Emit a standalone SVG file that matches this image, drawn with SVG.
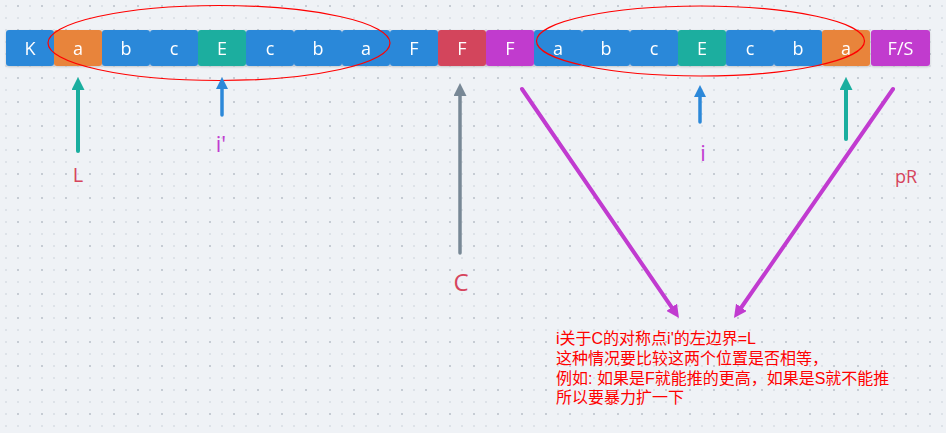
<svg xmlns="http://www.w3.org/2000/svg" width="946" height="433" viewBox="0 0 946 433">
<style>
.cell text{font-family:"Open Sans","Noto Sans",sans-serif;font-size:18px;fill:#ffffff;text-anchor:middle}
.blue{fill:#2c88d9}.orange{fill:#e8843b}.teal{fill:#1aae9f}.red{fill:#d3455b}.purple{fill:#c13bce}
.lbl{font-family:"Open Sans","Noto Sans",sans-serif;text-anchor:middle}
.note{font-family:"Liberation Sans","Noto Sans CJK SC",sans-serif;font-size:16px;fill:#ff0000}
.conn{fill:none;stroke-linecap:round}
</style>
<defs>
<pattern id="grid" width="24" height="24" patternUnits="userSpaceOnUse">
<rect x="5" y="5" width="2" height="2" fill="#dde2e8"/>
<rect x="5" y="17" width="2" height="2" fill="#dde2e8"/>
<rect x="17" y="17" width="2" height="2" fill="#dde2e8"/>
<rect x="17" y="5" width="2" height="2" fill="#c6ccd4"/>
</pattern>
<filter id="sh" x="-10%" y="-10%" width="120%" height="140%">
<feDropShadow dx="0" dy="1" stdDeviation="1" flood-color="#000" flood-opacity="0.18"/>
</filter>
<marker id="mTeal" viewBox="0 0 10 10" refX="2" refY="5" markerWidth="13" markerHeight="13" markerUnits="userSpaceOnUse" orient="auto"><path d="M0,0 L10,5 L0,10 z" fill="#1aae9f"/></marker>
<marker id="mBlue" viewBox="0 0 10 10" refX="2" refY="5" markerWidth="12" markerHeight="12" markerUnits="userSpaceOnUse" orient="auto"><path d="M0,0 L10,5 L0,10 z" fill="#2c88d9"/></marker>
<marker id="mGray" viewBox="0 0 10 10" refX="2" refY="5" markerWidth="13" markerHeight="13" markerUnits="userSpaceOnUse" orient="auto"><path d="M0,0 L10,5 L0,10 z" fill="#788896"/></marker>
<marker id="mPurple" viewBox="0 0 10 10" refX="2" refY="5" markerWidth="13" markerHeight="13" markerUnits="userSpaceOnUse" orient="auto"><path d="M0,0 L10,5 L0,10 z" fill="#c13bd0"/></marker>
</defs>
<rect width="946" height="433" fill="#eff2f6"/>
<rect width="946" height="433" fill="url(#grid)"/>

<g id="cells" filter="url(#sh)">
<g id="n0" class="cell"><rect class="blue" x="6" y="30" width="48" height="36" rx="3"/><text x="30" y="55">K</text></g>
<g id="n1" class="cell"><rect class="orange" x="54" y="30" width="48" height="36" rx="3"/><text x="78" y="55">a</text></g>
<g id="n2" class="cell"><rect class="blue" x="102" y="30" width="48" height="36" rx="3"/><text x="126" y="55">b</text></g>
<g id="n3" class="cell"><rect class="blue" x="150" y="30" width="48" height="36" rx="3"/><text x="174" y="55">c</text></g>
<g id="n4" class="cell"><rect class="teal" x="198" y="30" width="48" height="36" rx="3"/><text x="222" y="55">E</text></g>
<g id="n5" class="cell"><rect class="blue" x="246" y="30" width="48" height="36" rx="3"/><text x="270" y="55">c</text></g>
<g id="n6" class="cell"><rect class="blue" x="294" y="30" width="48" height="36" rx="3"/><text x="318" y="55">b</text></g>
<g id="n7" class="cell"><rect class="blue" x="342" y="30" width="48" height="36" rx="3"/><text x="366" y="55">a</text></g>
<g id="n8" class="cell"><rect class="blue" x="390" y="30" width="48" height="36" rx="3"/><text x="414" y="55">F</text></g>
<g id="n9" class="cell"><rect class="red" x="438" y="30" width="48" height="36" rx="3"/><text x="462" y="55">F</text></g>
<g id="n10" class="cell"><rect class="purple" x="486" y="30" width="48" height="36" rx="3"/><text x="510" y="55">F</text></g>
<g id="n11" class="cell"><rect class="blue" x="534" y="30" width="48" height="36" rx="3"/><text x="558" y="55">a</text></g>
<g id="n12" class="cell"><rect class="blue" x="582" y="30" width="48" height="36" rx="3"/><text x="606" y="55">b</text></g>
<g id="n13" class="cell"><rect class="blue" x="630" y="30" width="48" height="36" rx="3"/><text x="654" y="55">c</text></g>
<g id="n14" class="cell"><rect class="teal" x="678" y="30" width="48" height="36" rx="3"/><text x="702" y="55">E</text></g>
<g id="n15" class="cell"><rect class="blue" x="726" y="30" width="48" height="36" rx="3"/><text x="750" y="55">c</text></g>
<g id="n16" class="cell"><rect class="blue" x="774" y="30" width="48" height="36" rx="3"/><text x="798" y="55">b</text></g>
<g id="n17" class="cell"><rect class="orange" x="822" y="30" width="48" height="36" rx="3"/><text x="846" y="55">a</text></g>
<g id="n18" class="cell"><rect class="purple" x="871" y="30" width="59" height="36" rx="3"/><text x="900.5" y="55">F/S</text></g>
</g>

<g id="ellipses" fill="none" stroke="#ff0000" stroke-width="1.2">
<ellipse cx="219" cy="43" rx="171" ry="37.5"/>
<ellipse cx="700.5" cy="41" rx="164" ry="35"/>
</g>

<g id="connectors" class="conn">
<line x1="78" y1="151" x2="78" y2="87.4" stroke="#1aae9f" stroke-width="4" marker-end="url(#mTeal)"/>
<line x1="222" y1="115" x2="222" y2="86.6" stroke="#2c88d9" stroke-width="3.5" marker-end="url(#mBlue)"/>
<line x1="460" y1="253" x2="460" y2="93.4" stroke="#788896" stroke-width="3.5" marker-end="url(#mGray)"/>
<line x1="700" y1="122" x2="700" y2="94.6" stroke="#2c88d9" stroke-width="3.5" marker-end="url(#mBlue)"/>
<line x1="846" y1="139" x2="846" y2="87.4" stroke="#1aae9f" stroke-width="4" marker-end="url(#mTeal)"/>
<line x1="522" y1="89" x2="673.1" y2="309.4" stroke="#c13bd0" stroke-width="4" marker-end="url(#mPurple)"/>
<line x1="893" y1="89" x2="739.9" y2="309.5" stroke="#c13bd0" stroke-width="4" marker-end="url(#mPurple)"/>
</g>

<g id="labels">
<text class="lbl" x="78" y="182" font-size="20" fill="#d6455d">L</text>
<text class="lbl" x="221" y="152" font-size="22" fill="#c13bd0">i'</text>
<text class="lbl" x="461" y="291" font-size="24" fill="#d6455d">C</text>
<text class="lbl" x="703" y="161" font-size="22" fill="#c13bd0">i</text>
<text class="lbl" x="906" y="183" font-size="18" fill="#d6455d">pR</text>
</g>

<g id="note" class="note">
<text x="556" y="344">i关于C的对称点i'的左边界=L</text>
<text x="556" y="364">这种情况要比较这两个位置是否相等，</text>
<text x="556" y="383.5">例如: 如果是F就能推的更高，如果是S就不能推</text>
<text x="556" y="403">所以要暴力扩一下</text>
</g>
</svg>
